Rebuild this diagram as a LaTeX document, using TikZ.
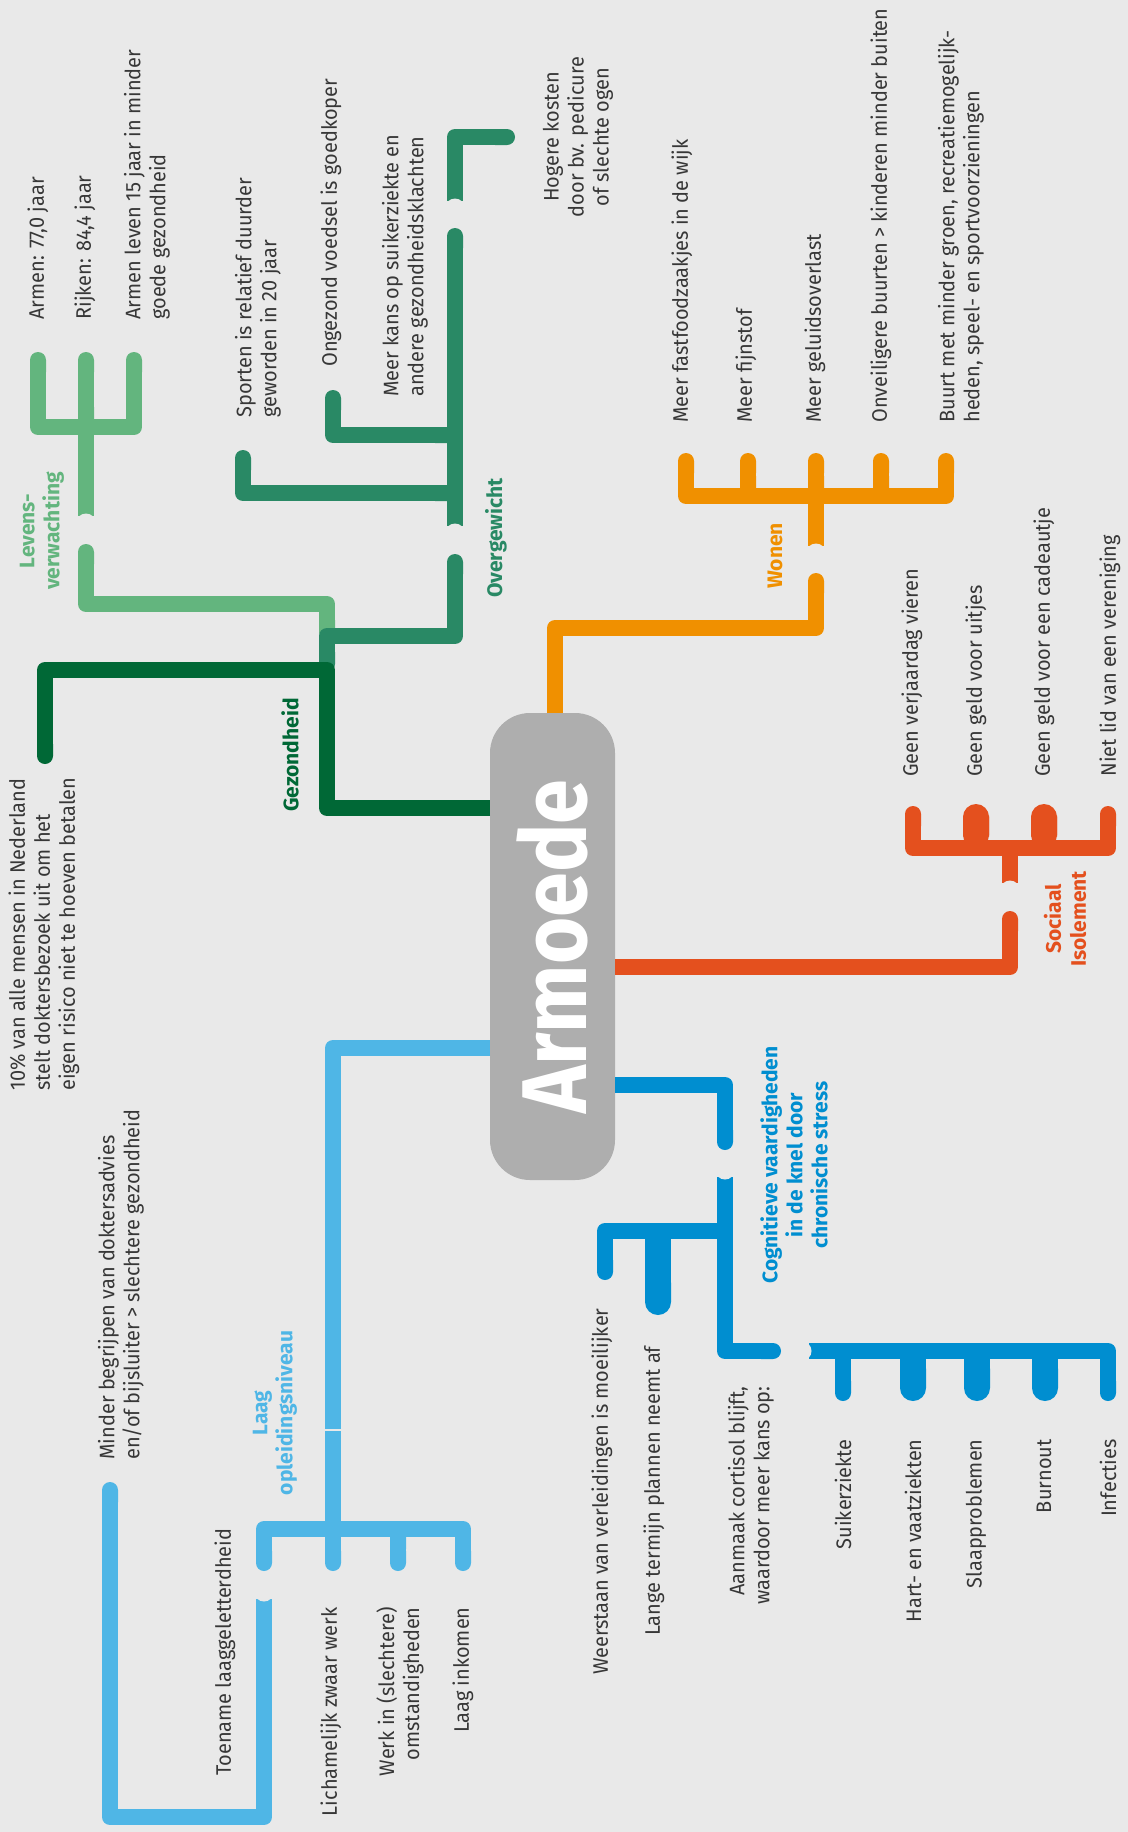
\documentclass[tikz,border=0pt]{standalone}
\usepackage{fontspec}
\setmainfont{Fira Sans}
\newfontfamily\bladfont{Fira Sans}[FakeStretch=0.95]
\usetikzlibrary{calc,arrows.meta}

\definecolor{achter}{RGB}{233,233,233}
\definecolor{kern}{RGB}{174,174,174}
\definecolor{donkergroen}{RGB}{0,104,54}
\definecolor{middengroen}{RGB}{41,137,101}
\definecolor{lichtgroen}{RGB}{99,181,126}
\definecolor{oranje}{RGB}{240,144,0}
\definecolor{rood}{RGB}{228,80,30}
\definecolor{lichtblauw}{RGB}{79,182,230}
\definecolor{blauw}{RGB}{0,142,208}
\definecolor{tekst}{RGB}{55,55,55}

\tikzset{
  tak/.style={draw=#1, line width=8pt, line join=round, line cap=butt},
  dik/.style={line width=13pt},
  rond/.style={arrows={Round Cap[]-Round Cap[]}},
  eindrond/.style={arrows={-Round Cap[]}},
  blad/.style={rotate=90, inner sep=0pt, text=tekst, font=\bladfont\fontsize{10.5}{12.5}\selectfont},
  kop/.style={rotate=90, inner sep=0pt, align=center, text=#1, font=\fontsize{10.5}{12.5}\selectfont\bfseries},
  kernblok/.style={fill=kern, rounded corners=20pt, rotate=90, inner sep=0pt,
    minimum width=233.5pt, minimum height=62.5pt, text=white}
}
% holle onderbreking in een tak
\newcommand{\holtak}[2]{\fill[achter] ($(#1)+(#2)$) circle (5pt);}

\begin{document}
\begin{tikzpicture}[x=0.5pt, y=-0.5pt]
\fill[achter] (0,0) rectangle (1128,1832);
\useasboundingbox (0,0) rectangle (1128,1832);

\node[kernblok] (armoede) at (552.5,946.5)
  {\scalebox{0.88}[1]{\fontsize{46}{46}\selectfont\bfseries Armoede}};

\coordinate (gz) at (490,808);
\coordinate (wo) at (555,713);
\coordinate (si) at (615,967);
\coordinate (lo) at (490,1048);
\coordinate (cv) at (615,1085);

% levensverwachting
\draw[tak=lichtgroen, rond] (38,352) -- (38,427) -- (134,427) -- (134,352);
\draw[tak=lichtgroen, rond] (86,352) -- (86,427);
\draw[tak=lichtgroen] (86,427) -- (86,516);
\holtak{86,516}{0,7.5}
\draw[tak=lichtgroen, rond] (86,544) -- (86,604) -- (327,604) -- (327,640);

% overgewicht
\draw[tak=middengroen, arrows={Round Cap[]-}] (515,137) -- (455,137) -- (455,201);
\holtak{455,201}{0,7.5}
\draw[tak=middengroen, arrows={Round Cap[]-}] (455,228) -- (455,526);
\holtak{455,526}{0,7.5}
\draw[tak=middengroen, rond] (243,450) -- (243,493) -- (455,493);
\draw[tak=middengroen, rond] (333,390) -- (333,435) -- (455,435);
\draw[tak=middengroen, rond] (455,554) -- (455,636) -- (327,636) -- (327,672);

% gezondheid
\draw[tak=donkergroen, eindrond] (gz) -- (327,808) -- (327,670) -- (45,670) -- (45,764);

% wonen
\draw[tak=oranje, rond] (686,453) -- (686,496) -- (946,496) -- (946,453);
\foreach \x in {748,816,881}
  \draw[tak=oranje, rond] (\x,453) -- (\x,496);
\draw[tak=oranje] (816,496) -- (816,546);
\holtak{816,546}{0,7.5}
\draw[tak=oranje, eindrond] (wo) -- (555,628) -- (816,628) -- (816,573);

% sociaal isolement
\draw[tak=rood, rond] (913,806) -- (913,848) -- (1108,848) -- (1108,806);
\foreach \x in {976,1044}
  \draw[tak=rood, dik, rond] (\x,804) -- (\x,848);
\draw[tak=rood] (1010,848) -- (1010,883);
\holtak{1010,883}{0,7.5}
\draw[tak=rood, eindrond] (si) -- (1010,967) -- (1010,911);

% laag opleidingsniveau
\draw[tak=lichtblauw] (lo) -- (333,1048) -- (333,1429);
\draw[tak=lichtblauw, eindrond] (333,1431) -- (333,1571);
\draw[tak=lichtblauw, rond] (264,1571) -- (264,1529) -- (463,1529) -- (463,1571);
\draw[tak=lichtblauw, rond] (398,1529) -- (398,1571);
\draw[tak=lichtblauw, eindrond] (264,1599) -- (264,1817) -- (110,1817) -- (110,1482);
\holtak{264,1599}{0,-7.5}

% cognitieve vaardigheden
\draw[tak=blauw, eindrond] (cv) -- (725,1085) -- (725,1150);
\draw[tak=blauw, eindrond] (725,1177) -- (725,1351) -- (781,1351);
\holtak{725,1177}{0,-7.5}
\draw[tak=blauw, eindrond] (725,1231) -- (605,1231) -- (605,1280);
\draw[tak=blauw, dik, eindrond] (658,1231) -- (658,1315);
\draw[tak=blauw, eindrond] (809,1351) -- (1108,1351) -- (1108,1401);
\draw[tak=blauw, eindrond] (843,1351) -- (843,1401);
\foreach \x in {913,977,1045}
  \draw[tak=blauw, dik, eindrond] (\x,1351) -- (\x,1401);
\holtak{809,1351}{-7.5,0}

% kopjes
\node[kop=lichtgroen] (levens) at (42,531) {Levens-\\verwachting};
\node[kop=middengroen] (overgewicht) at (496,538) {Overgewicht};
\node[kop=donkergroen] (gezondheid) at (290,755) {Gezondheid};
\node[kop=oranje] (wonen) at (775,556) {Wonen};
\node[kop=rood] (sociaal) at (1065,919) {Sociaal\\Isolement};
\node[kop=lichtblauw] (laag) at (275,1413) {Laag\\opleidingsniveau};
\node[kop=blauw] (cognitief) at (794,1165) {Cognitieve vaardigheden\\in de knel door\\chronische stress};

% levensverwachting
\node[blad, anchor=west] (armen) at (38,320) {Armen: 77,0 jaar};
\node[blad, anchor=west] (rijken) at (85,320) {Rijken: 84,4 jaar};
\node[blad, anchor=west, align=left] (vijftien) at (147,320) {Armen leven 15 jaar in minder\\goede gezondheid};

% overgewicht
\node[blad, anchor=west, align=left] (sporten) at (258,418) {Sporten is relatief duurder\\geworden in 20 jaar};
\node[blad, anchor=west] (ongezond) at (331,367) {Ongezond voedsel is goedkoper};
\node[blad, anchor=west, align=left] (suiker) at (405,397) {Meer kans op suikerziekte en\\andere gezondheidsklachten};
\node[blad, align=center] (kosten) at (578,137) {Hogere kosten\\door bv. pedicure\\of slechte ogen};

% gezondheid
\node[blad, anchor=west, align=left] (risico) at (44,1091) {10\% van alle mensen in Nederland\\stelt doktersbezoek uit om het\\eigen risico niet te hoeven betalen};

% wonen
\node[blad, anchor=west] (fastfood) at (682,423) {Meer fastfoodzaakjes in de wijk};
\node[blad, anchor=west] (fijnstof) at (746,423) {Meer fijnstof};
\node[blad, anchor=west] (geluid) at (815,423) {Meer geluidsoverlast};
\node[blad, anchor=west] (onveilig) at (881,423) {Onveiligere buurten > kinderen minder buiten};
\node[blad, anchor=west, align=left] (groen) at (961,423) {Buurt met minder groen, recreatiemogelijk-\\heden, speel- en sportvoorzieningen};

% sociaal isolement
\node[blad, anchor=west] (verjaardag) at (912,777) {Geen verjaardag vieren};
\node[blad, anchor=west] (uitjes) at (976,777) {Geen geld voor uitjes};
\node[blad, anchor=west] (cadeau) at (1044,777) {Geen geld voor een cadeautje};
\node[blad, anchor=west] (vereniging) at (1110,777) {Niet lid van een vereniging};

% laag opleidingsniveau
\node[blad, anchor=west, align=left] (advies) at (121,1460) {Minder begrijpen van doktersadvies\\en/of bijsluiter > slechtere gezondheid};
\node[blad, anchor=west] (toename) at (225,1776) {Toename laaggeletterdheid};
\node[blad, anchor=east] (zwaar) at (331,1607) {Lichamelijk zwaar werk};
\node[blad, anchor=east, align=right] (omstandig) at (400,1607) {Werk in (slechtere)\\omstandigheden};
\node[blad, anchor=east] (inkomen) at (463,1607) {Laag inkomen};

% cognitieve vaardigheden
\node[blad, anchor=east] (weerstaan) at (602,1308) {Weerstaan van verleidingen is moeilijker};
\node[blad, anchor=east] (plannen) at (654,1346) {Lange termijn plannen neemt af};
\node[blad, anchor=east, align=right] (cortisol) at (751,1386) {Aanmaak cortisol blijft,\\waardoor meer kans op:};
\node[blad, anchor=east] (suikerziekte) at (843,1439) {Suikerziekte};
\node[blad, anchor=east] (hartvaat) at (913,1439) {Hart- en vaatziekten};
\node[blad, anchor=east] (slaap) at (976,1439) {Slaapproblemen};
\node[blad, anchor=east] (burnout) at (1044,1439) {Burnout};
\node[blad, anchor=east] (infecties) at (1108,1439) {Infecties};
\end{tikzpicture}
\end{document}
